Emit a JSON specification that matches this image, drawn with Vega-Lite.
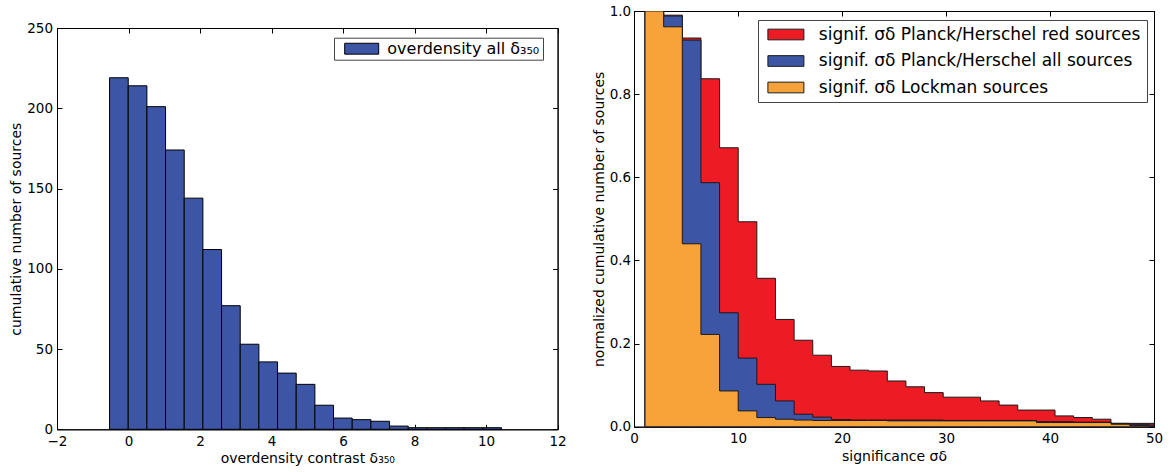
{
  "$schema": "https://vega.github.io/schema/vega-lite/v6.json",
  "background": "white",
  "padding": {"left": 9, "top": 3, "right": 0, "bottom": 0},
  "config": {
    "font": "DejaVu Sans",
    "view": {"stroke": "black", "strokeWidth": 1},
    "axis": {
      "grid": false, "domainColor": "black", "domainWidth": 1,
      "tickColor": "black", "tickWidth": 1, "tickSize": -5,
      "labelColor": "black", "titleColor": "black",
      "labelFontSize": 13.5, "titleFontSize": 14, "titleFontWeight": "normal",
      "labelPadding": 10, "labelFlush": false, "labelOverlap": false
    },
    "axisY": {"labelPadding": 9.5, "titlePadding": 3},
    "axisX": {"titlePadding": 4}
  },
  "spacing": 24,
  "resolve": {"scale": {"x": "independent", "y": "independent", "color": "independent"}},
  "datasets": {
    "over": [
      {"lo": -0.53, "hi": -0.008, "n": 219},
      {"lo": -0.008, "hi": 0.514, "n": 214},
      {"lo": 0.514, "hi": 1.036, "n": 201},
      {"lo": 1.036, "hi": 1.558, "n": 174},
      {"lo": 1.558, "hi": 2.08, "n": 144},
      {"lo": 2.08, "hi": 2.602, "n": 112},
      {"lo": 2.602, "hi": 3.124, "n": 77},
      {"lo": 3.124, "hi": 3.646, "n": 53},
      {"lo": 3.646, "hi": 4.168, "n": 42},
      {"lo": 4.168, "hi": 4.69, "n": 35},
      {"lo": 4.69, "hi": 5.212, "n": 28},
      {"lo": 5.212, "hi": 5.734, "n": 15},
      {"lo": 5.734, "hi": 6.256, "n": 7},
      {"lo": 6.256, "hi": 6.778, "n": 6},
      {"lo": 6.778, "hi": 7.3, "n": 5},
      {"lo": 7.3, "hi": 7.822, "n": 2},
      {"lo": 7.822, "hi": 8.344, "n": 1},
      {"lo": 8.344, "hi": 8.866, "n": 1},
      {"lo": 8.866, "hi": 9.388, "n": 1},
      {"lo": 9.388, "hi": 9.91, "n": 1},
      {"lo": 9.91, "hi": 10.432, "n": 1}
    ],
    "sig": [
      {"series": "signif. σδ Planck/Herschel red sources", "a": 1.06, "b": 2.852, "v": 1.0},
      {"series": "signif. σδ Planck/Herschel red sources", "a": 2.852, "b": 4.644, "v": 0.99},
      {"series": "signif. σδ Planck/Herschel red sources", "a": 4.644, "b": 6.436, "v": 0.935},
      {"series": "signif. σδ Planck/Herschel red sources", "a": 6.436, "b": 8.228, "v": 0.837},
      {"series": "signif. σδ Planck/Herschel red sources", "a": 8.228, "b": 10.02, "v": 0.671},
      {"series": "signif. σδ Planck/Herschel red sources", "a": 10.02, "b": 11.812, "v": 0.493},
      {"series": "signif. σδ Planck/Herschel red sources", "a": 11.812, "b": 13.604, "v": 0.357},
      {"series": "signif. σδ Planck/Herschel red sources", "a": 13.604, "b": 15.396, "v": 0.258},
      {"series": "signif. σδ Planck/Herschel red sources", "a": 15.396, "b": 17.188, "v": 0.208},
      {"series": "signif. σδ Planck/Herschel red sources", "a": 17.188, "b": 18.98, "v": 0.172},
      {"series": "signif. σδ Planck/Herschel red sources", "a": 18.98, "b": 20.772, "v": 0.145},
      {"series": "signif. σδ Planck/Herschel red sources", "a": 20.772, "b": 22.564, "v": 0.136},
      {"series": "signif. σδ Planck/Herschel red sources", "a": 22.564, "b": 24.356, "v": 0.134},
      {"series": "signif. σδ Planck/Herschel red sources", "a": 24.356, "b": 26.148, "v": 0.11},
      {"series": "signif. σδ Planck/Herschel red sources", "a": 26.148, "b": 27.94, "v": 0.096},
      {"series": "signif. σδ Planck/Herschel red sources", "a": 27.94, "b": 29.732, "v": 0.082},
      {"series": "signif. σδ Planck/Herschel red sources", "a": 29.732, "b": 31.524, "v": 0.071},
      {"series": "signif. σδ Planck/Herschel red sources", "a": 31.524, "b": 33.316, "v": 0.071},
      {"series": "signif. σδ Planck/Herschel red sources", "a": 33.316, "b": 35.108, "v": 0.062},
      {"series": "signif. σδ Planck/Herschel red sources", "a": 35.108, "b": 36.9, "v": 0.052},
      {"series": "signif. σδ Planck/Herschel red sources", "a": 36.9, "b": 38.692, "v": 0.04},
      {"series": "signif. σδ Planck/Herschel red sources", "a": 38.692, "b": 40.484, "v": 0.04},
      {"series": "signif. σδ Planck/Herschel red sources", "a": 40.484, "b": 42.276, "v": 0.026},
      {"series": "signif. σδ Planck/Herschel red sources", "a": 42.276, "b": 44.068, "v": 0.022},
      {"series": "signif. σδ Planck/Herschel red sources", "a": 44.068, "b": 45.86, "v": 0.018},
      {"series": "signif. σδ Planck/Herschel red sources", "a": 45.86, "b": 47.652, "v": 0.008},
      {"series": "signif. σδ Planck/Herschel red sources", "a": 47.652, "b": 49.444, "v": 0.008},
      {"series": "signif. σδ Planck/Herschel red sources", "a": 49.444, "b": 51.236, "v": 0.008},
      {"series": "signif. σδ Planck/Herschel all sources", "a": 1.06, "b": 2.852, "v": 1.0},
      {"series": "signif. σδ Planck/Herschel all sources", "a": 2.852, "b": 4.644, "v": 0.988},
      {"series": "signif. σδ Planck/Herschel all sources", "a": 4.644, "b": 6.436, "v": 0.93},
      {"series": "signif. σδ Planck/Herschel all sources", "a": 6.436, "b": 8.228, "v": 0.587},
      {"series": "signif. σδ Planck/Herschel all sources", "a": 8.228, "b": 10.02, "v": 0.274},
      {"series": "signif. σδ Planck/Herschel all sources", "a": 10.02, "b": 11.812, "v": 0.165},
      {"series": "signif. σδ Planck/Herschel all sources", "a": 11.812, "b": 13.604, "v": 0.102},
      {"series": "signif. σδ Planck/Herschel all sources", "a": 13.604, "b": 15.396, "v": 0.062},
      {"series": "signif. σδ Planck/Herschel all sources", "a": 15.396, "b": 17.188, "v": 0.03},
      {"series": "signif. σδ Planck/Herschel all sources", "a": 17.188, "b": 18.98, "v": 0.023},
      {"series": "signif. σδ Planck/Herschel all sources", "a": 18.98, "b": 20.772, "v": 0.017},
      {"series": "signif. σδ Planck/Herschel all sources", "a": 20.772, "b": 22.564, "v": 0.016},
      {"series": "signif. σδ Planck/Herschel all sources", "a": 22.564, "b": 24.356, "v": 0.016},
      {"series": "signif. σδ Planck/Herschel all sources", "a": 24.356, "b": 26.148, "v": 0.016},
      {"series": "signif. σδ Planck/Herschel all sources", "a": 26.148, "b": 27.94, "v": 0.016},
      {"series": "signif. σδ Planck/Herschel all sources", "a": 27.94, "b": 29.732, "v": 0.016},
      {"series": "signif. σδ Planck/Herschel all sources", "a": 29.732, "b": 31.524, "v": 0.015},
      {"series": "signif. σδ Planck/Herschel all sources", "a": 31.524, "b": 33.316, "v": 0.015},
      {"series": "signif. σδ Planck/Herschel all sources", "a": 33.316, "b": 35.108, "v": 0.015},
      {"series": "signif. σδ Planck/Herschel all sources", "a": 35.108, "b": 36.9, "v": 0.015},
      {"series": "signif. σδ Planck/Herschel all sources", "a": 36.9, "b": 38.692, "v": 0.015},
      {"series": "signif. σδ Planck/Herschel all sources", "a": 38.692, "b": 40.484, "v": 0.012},
      {"series": "signif. σδ Planck/Herschel all sources", "a": 40.484, "b": 42.276, "v": 0.012},
      {"series": "signif. σδ Planck/Herschel all sources", "a": 42.276, "b": 44.068, "v": 0.011},
      {"series": "signif. σδ Planck/Herschel all sources", "a": 44.068, "b": 45.86, "v": 0.011},
      {"series": "signif. σδ Planck/Herschel all sources", "a": 45.86, "b": 47.652, "v": 0.008},
      {"series": "signif. σδ Planck/Herschel all sources", "a": 47.652, "b": 49.444, "v": 0.006},
      {"series": "signif. σδ Planck/Herschel all sources", "a": 49.444, "b": 51.236, "v": 0.004},
      {"series": "signif. σδ Lockman sources", "a": 1.06, "b": 2.852, "v": 1.0},
      {"series": "signif. σδ Lockman sources", "a": 2.852, "b": 4.644, "v": 0.962},
      {"series": "signif. σδ Lockman sources", "a": 4.644, "b": 6.436, "v": 0.44},
      {"series": "signif. σδ Lockman sources", "a": 6.436, "b": 8.228, "v": 0.222},
      {"series": "signif. σδ Lockman sources", "a": 8.228, "b": 10.02, "v": 0.086},
      {"series": "signif. σδ Lockman sources", "a": 10.02, "b": 11.812, "v": 0.038},
      {"series": "signif. σδ Lockman sources", "a": 11.812, "b": 13.604, "v": 0.022},
      {"series": "signif. σδ Lockman sources", "a": 13.604, "b": 15.396, "v": 0.018},
      {"series": "signif. σδ Lockman sources", "a": 15.396, "b": 17.188, "v": 0.016},
      {"series": "signif. σδ Lockman sources", "a": 17.188, "b": 18.98, "v": 0.015},
      {"series": "signif. σδ Lockman sources", "a": 18.98, "b": 20.772, "v": 0.015},
      {"series": "signif. σδ Lockman sources", "a": 20.772, "b": 22.564, "v": 0.015},
      {"series": "signif. σδ Lockman sources", "a": 22.564, "b": 24.356, "v": 0.015},
      {"series": "signif. σδ Lockman sources", "a": 24.356, "b": 26.148, "v": 0.014},
      {"series": "signif. σδ Lockman sources", "a": 26.148, "b": 27.94, "v": 0.014},
      {"series": "signif. σδ Lockman sources", "a": 27.94, "b": 29.732, "v": 0.014},
      {"series": "signif. σδ Lockman sources", "a": 29.732, "b": 31.524, "v": 0.014},
      {"series": "signif. σδ Lockman sources", "a": 31.524, "b": 33.316, "v": 0.014},
      {"series": "signif. σδ Lockman sources", "a": 33.316, "b": 35.108, "v": 0.014},
      {"series": "signif. σδ Lockman sources", "a": 35.108, "b": 36.9, "v": 0.014},
      {"series": "signif. σδ Lockman sources", "a": 36.9, "b": 38.692, "v": 0.014},
      {"series": "signif. σδ Lockman sources", "a": 38.692, "b": 40.484, "v": 0.01},
      {"series": "signif. σδ Lockman sources", "a": 40.484, "b": 42.276, "v": 0.01},
      {"series": "signif. σδ Lockman sources", "a": 42.276, "b": 44.068, "v": 0.01},
      {"series": "signif. σδ Lockman sources", "a": 44.068, "b": 45.86, "v": 0.01},
      {"series": "signif. σδ Lockman sources", "a": 45.86, "b": 47.652, "v": 0.006},
      {"series": "signif. σδ Lockman sources", "a": 47.652, "b": 49.444, "v": 0.003},
      {"series": "signif. σδ Lockman sources", "a": 49.444, "b": 51.236, "v": 0.001}
    ]
  },
  "hconcat": [
    {
      "spacing": 0,
      "vconcat": [
        {
          "width": 500.6,
          "height": 8.4,
          "view": {"stroke": null},
          "data": {"values": [{}]},
          "mark": {"type": "point", "opacity": 0},
          "encoding": {}
        },
        {
          "width": 500.6,
          "height": 401.3,
          "data": {"name": "over"},
          "resolve": {"axis": {"x": "independent", "y": "independent"}},
          "layer": [
            {
              "mark": {"type": "rect", "stroke": "black", "strokeWidth": 1, "opacity": 1},
              "encoding": {
                "x": {"field": "lo", "type": "quantitative", "scale": {"domain": [-2, 12], "nice": false, "zero": false},
                      "axis": {"orient": "bottom", "values": [-2, 0, 2, 4, 6, 8, 10, 12], "title": "overdensity contrast δ₃₅₀"}},
                "x2": {"field": "hi"},
                "y": {"field": "n", "type": "quantitative", "scale": {"domain": [0, 250], "nice": false},
                      "axis": {"orient": "left", "values": [0, 50, 100, 150, 200, 250], "title": "cumulative number of sources"}},
                "y2": {"datum": 0},
                "color": {"datum": "overdensity all δ₃₅₀", "type": "nominal", "scale": {"range": ["#3c55a5"]},
                          "legend": {"orient": "none", "legendX": 277, "legendY": 26.7, "title": null,
                                     "symbolType": "M-4.857,-1.557H4.857V1.557H-4.857Z", "symbolSize": 49,
                                     "symbolStrokeColor": "black", "symbolStrokeWidth": 1, "symbolOpacity": 1,
                                     "labelFontSize": 16, "labelLimit": 600, "labelOffset": 17.6, "labelColor": "black",
                                     "padding": 3, "symbolOffset": 16.7,
                                     "strokeColor": "#444", "fillColor": "white"}}
              }
            },
            {
              "mark": {"type": "rect", "opacity": 0},
              "encoding": {
                "x": {"field": "lo", "type": "quantitative", "scale": {"domain": [-2, 12], "nice": false, "zero": false},
                      "axis": {"orient": "top", "values": [-2, 0, 2, 4, 6, 8, 10, 12], "labels": false, "title": null}},
                "x2": {"field": "hi"},
                "y": {"field": "n", "type": "quantitative", "scale": {"domain": [0, 250], "nice": false},
                      "axis": {"orient": "right", "values": [0, 50, 100, 150, 200, 250], "labels": false, "title": null}},
                "y2": {"datum": 0}
              }
            }
          ]
        }
      ]
    },
    {
      "width": 520,
      "height": 415.7,
      "data": {"name": "sig"},
      "resolve": {"axis": {"x": "independent", "y": "independent"}},
      "layer": [
        {
          "transform": [
            {"filter": {"field": "series", "equal": "signif. σδ Planck/Herschel red sources"}},
            {"fold": ["a", "b"], "as": ["edge", "x"]}
          ],
          "mark": {"type": "area", "stroke": "#1a1a1a", "strokeWidth": 1, "opacity": 1, "clip": true},
          "encoding": {
            "x": {"field": "x", "type": "quantitative", "scale": {"domain": [0, 50], "nice": false, "zero": false},
                  "axis": {"orient": "bottom", "values": [0, 10, 20, 30, 40, 50], "title": "significance σδ"}},
            "y": {"field": "v", "type": "quantitative", "stack": null, "scale": {"domain": [0, 1], "nice": false},
                  "axis": {"orient": "left", "values": [0, 0.2, 0.4, 0.6, 0.8, 1.0], "format": ".1f", "labelPadding": 8.3, "titlePadding": 3,
                           "title": "normalized cumulative number of sources"}},
            "color": {"field": "series", "type": "nominal",
                      "scale": {"domain": ["signif. σδ Planck/Herschel red sources", "signif. σδ Planck/Herschel all sources", "signif. σδ Lockman sources"],
                                "range": ["#ed1c24", "#3c55a5", "#f8a33a"]},
                      "legend": {"orient": "none", "legendX": 124, "legendY": 9, "title": null,
                                 "symbolType": "M-5.143,-1.529H5.143V1.529H-5.143Z", "symbolSize": 49,
                                 "symbolStrokeColor": "black", "symbolStrokeWidth": 1, "symbolOpacity": 1,
                                 "labelFontSize": 17, "labelLimit": 600, "labelOffset": 24.4, "labelColor": "black",
                                 "rowPadding": 8.5, "padding": 6, "symbolOffset": 13.4,
                                 "strokeColor": "#444", "fillColor": "white"}}
          }
        },
        {
          "transform": [
            {"filter": {"field": "series", "equal": "signif. σδ Planck/Herschel all sources"}},
            {"fold": ["a", "b"], "as": ["edge", "x"]}
          ],
          "mark": {"type": "area", "stroke": "#1a1a1a", "strokeWidth": 1, "opacity": 1, "clip": true},
          "encoding": {
            "x": {"field": "x", "type": "quantitative", "scale": {"domain": [0, 50], "nice": false, "zero": false}, "axis": null},
            "y": {"field": "v", "type": "quantitative", "stack": null, "scale": {"domain": [0, 1], "nice": false}, "axis": null},
            "color": {"field": "series", "type": "nominal"}
          }
        },
        {
          "transform": [
            {"filter": {"field": "series", "equal": "signif. σδ Lockman sources"}},
            {"fold": ["a", "b"], "as": ["edge", "x"]}
          ],
          "mark": {"type": "area", "stroke": "#1a1a1a", "strokeWidth": 1, "opacity": 1, "clip": true},
          "encoding": {
            "x": {"field": "x", "type": "quantitative", "scale": {"domain": [0, 50], "nice": false, "zero": false}, "axis": null},
            "y": {"field": "v", "type": "quantitative", "stack": null, "scale": {"domain": [0, 1], "nice": false}, "axis": null},
            "color": {"field": "series", "type": "nominal"}
          }
        },
        {
          "mark": {"type": "rect", "opacity": 0},
          "encoding": {
            "x": {"field": "a", "type": "quantitative", "scale": {"domain": [0, 50], "nice": false, "zero": false},
                  "axis": {"orient": "top", "values": [0, 10, 20, 30, 40, 50], "labels": false, "title": null}},
            "y": {"field": "v", "type": "quantitative", "scale": {"domain": [0, 1], "nice": false},
                  "axis": {"orient": "right", "values": [0, 0.2, 0.4, 0.6, 0.8, 1.0], "labels": false, "title": null}}
          }
        }
      ]
    }
  ]
}
